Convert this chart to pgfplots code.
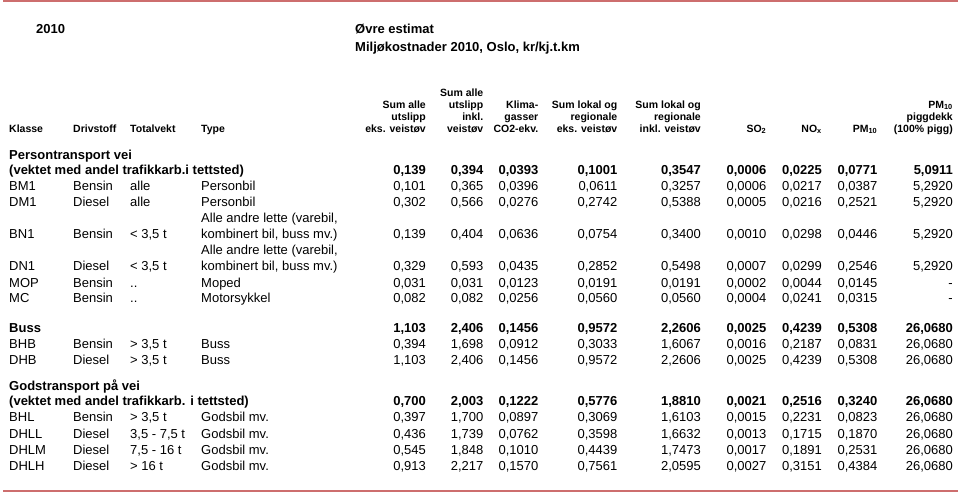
\documentclass[border=0pt]{standalone}
\usepackage{pgfplots}
\pgfplotsset{compat=1.18}
\usepackage{pgfplotstable}
\usepackage{fontspec}
\setmainfont{Liberation Sans}
\definecolor{rule}{RGB}{205,110,110}
\newcommand\dfont{\fontsize{13}{15}\selectfont}
\newcommand\hfont{\fontsize{10.5}{12}\selectfont\bfseries}

% numeric table: y = baseline (pixels from top)
\pgfplotstableread{
y     a     b     c      d      e      f      g      h      i
174.5 0,139 0,394 0,0393 0,1001 0,3547 0,0006 0,0225 0,0771 5,0911
332   1,103 2,406 0,1456 0,9572 2,2606 0,0025 0,4239 0,5308 26,0680
405.5 0,700 2,003 0,1222 0,5776 1,8810 0,0021 0,2516 0,3240 26,0680
}\sumrows
\pgfplotstableread{
y     a     b     c      d      e      f      g      h      i
190.5 0,101 0,365 0,0396 0,0611 0,3257 0,0006 0,0217 0,0387 5,2920
206.5 0,302 0,566 0,0276 0,2742 0,5388 0,0005 0,0216 0,2521 5,2920
238.5 0,139 0,404 0,0636 0,0754 0,3400 0,0010 0,0298 0,0446 5,2920
270.5 0,329 0,593 0,0435 0,2852 0,5498 0,0007 0,0299 0,2546 5,2920
287   0,031 0,031 0,0123 0,0191 0,0191 0,0002 0,0044 0,0145 -
302.5 0,082 0,082 0,0256 0,0560 0,0560 0,0004 0,0241 0,0315 -
348   0,394 1,698 0,0912 0,3033 1,6067 0,0016 0,2187 0,0831 26,0680
364.5 1,103 2,406 0,1456 0,9572 2,2606 0,0025 0,4239 0,5308 26,0680
421.5 0,397 1,700 0,0897 0,3069 1,6103 0,0015 0,2231 0,0823 26,0680
438   0,436 1,739 0,0762 0,3598 1,6632 0,0013 0,1715 0,1870 26,0680
454   0,545 1,848 0,1010 0,4439 1,7473 0,0017 0,1891 0,2531 26,0680
470.5 0,913 2,217 0,1570 0,7561 2,0595 0,0027 0,3151 0,4384 26,0680
}\rows

\newcommand\numcol[4]{%
  \addplot[draw=none, nodes near coords, point meta=explicit symbolic,
    nodes near coords align={center},
    every node near coord/.append style={anchor=base east, inner sep=0pt, font=#4}]
    table[x expr=#2, y=y, meta=#1] {#3};}
\newcommand\lbl[3]{\node[anchor=base west, inner sep=0pt, font=\dfont] at (axis cs:#1,#2) {#3};}
\newcommand\bl[3]{\node[anchor=base west, inner sep=0pt, font=\dfont\bfseries] at (axis cs:#1,#2) {#3};}
\newcommand\hd[3]{\node[anchor=base east, inner sep=0pt, font=\hfont] at (axis cs:#1,#2) {#3};}
\newcommand\hl[3]{\node[anchor=base west, inner sep=0pt, font=\hfont] at (axis cs:#1,#2) {#3};}

\begin{document}
\begin{tikzpicture}
\begin{axis}[width=960pt, height=498pt, scale only axis,
  xmin=0, xmax=960, ymin=0, ymax=498, y dir=reverse,
  hide axis, clip=false]
\path (axis cs:0,0) rectangle (axis cs:960,498);
\draw[rule, line width=2.2pt] (axis cs:3,1) -- (axis cs:958,1);
\draw[rule, line width=2.2pt] (axis cs:3,491) -- (axis cs:958,491);

% titles
\bl{36}{33}{2010}
\bl{355}{33}{Øvre estimat}
\bl{355}{51}{Miljøkostnader 2010, Oslo, kr/kj.t.km}

% header
\hl{9}{132}{Klasse}
\hl{73}{132}{Drivstoff}
\hl{130}{132}{Totalvekt}
\hl{201}{132}{Type}
\hd{426}{108}{Sum alle}\hd{426}{120}{utslipp}\hd{426}{132}{eks. veistøv}
\hd{483.5}{96}{Sum alle}\hd{483.5}{108}{utslipp}\hd{483.5}{120}{inkl.}\hd{483.5}{132}{veistøv}
\hd{538.5}{108}{Klima-}\hd{538.5}{120}{gasser}\hd{538.5}{132}{CO2-ekv.}
\hd{617.5}{108}{Sum lokal og}\hd{617.5}{120}{regionale}\hd{617.5}{132}{eks. veistøv}
\hd{701}{108}{Sum lokal og}\hd{701}{120}{regionale}\hd{701}{132}{inkl. veistøv}
\hd{766.5}{132}{SO\textsubscript{2}}
\hd{822}{132}{NO\textsubscript{x}}
\hd{877.5}{132}{PM\textsubscript{10}}
\hd{953}{108}{PM\textsubscript{10}}\hd{953}{120}{piggdekk}\hd{953}{132}{(100\% pigg)}

% section labels
\bl{9}{159.5}{Persontransport vei}
\bl{9}{174.5}{(vektet med andel trafikkarb.i tettsted)}
\bl{9}{332}{Buss}
\bl{9}{390}{Godstransport på vei}
\bl{9}{405.5}{(vektet med andel trafikkarb. i tettsted)}

% row labels
\lbl{9}{190.5}{BM1}\lbl{73}{190.5}{Bensin}\lbl{130}{190.5}{alle}\lbl{201}{190.5}{Personbil}
\lbl{9}{206.5}{DM1}\lbl{73}{206.5}{Diesel}\lbl{130}{206.5}{alle}\lbl{201}{206.5}{Personbil}
\lbl{201}{222.5}{Alle andre lette (varebil,}
\lbl{9}{238.5}{BN1}\lbl{73}{238.5}{Bensin}\lbl{130}{238.5}{< 3,5 t}\lbl{201}{238.5}{kombinert bil, buss mv.)}
\lbl{201}{254.5}{Alle andre lette (varebil,}
\lbl{9}{270.5}{DN1}\lbl{73}{270.5}{Diesel}\lbl{130}{270.5}{< 3,5 t}\lbl{201}{270.5}{kombinert bil, buss mv.)}
\lbl{9}{287}{MOP}\lbl{73}{287}{Bensin}\lbl{130}{287}{..}\lbl{201}{287}{Moped}
\lbl{9}{302.5}{MC}\lbl{73}{302.5}{Bensin}\lbl{130}{302.5}{..}\lbl{201}{302.5}{Motorsykkel}
\lbl{9}{348}{BHB}\lbl{73}{348}{Bensin}\lbl{130}{348}{> 3,5 t}\lbl{201}{348}{Buss}
\lbl{9}{364.5}{DHB}\lbl{73}{364.5}{Diesel}\lbl{130}{364.5}{> 3,5 t}\lbl{201}{364.5}{Buss}
\lbl{9}{421.5}{BHL}\lbl{73}{421.5}{Bensin}\lbl{130}{421.5}{> 3,5 t}\lbl{201}{421.5}{Godsbil mv.}
\lbl{9}{438}{DHLL}\lbl{73}{438}{Diesel}\lbl{130}{438}{3,5 - 7,5 t}\lbl{201}{438}{Godsbil mv.}
\lbl{9}{454}{DHLM}\lbl{73}{454}{Diesel}\lbl{130}{454}{7,5 - 16 t}\lbl{201}{454}{Godsbil mv.}
\lbl{9}{470.5}{DHLH}\lbl{73}{470.5}{Diesel}\lbl{130}{470.5}{> 16 t}\lbl{201}{470.5}{Godsbil mv.}

% numeric columns
\numcol{a}{426}{\rows}{\dfont}
\numcol{b}{483.5}{\rows}{\dfont}
\numcol{c}{538.5}{\rows}{\dfont}
\numcol{d}{617.5}{\rows}{\dfont}
\numcol{e}{701}{\rows}{\dfont}
\numcol{f}{766.5}{\rows}{\dfont}
\numcol{g}{822}{\rows}{\dfont}
\numcol{h}{877.5}{\rows}{\dfont}
\numcol{i}{953}{\rows}{\dfont}
\numcol{a}{426}{\sumrows}{\dfont\bfseries}
\numcol{b}{483.5}{\sumrows}{\dfont\bfseries}
\numcol{c}{538.5}{\sumrows}{\dfont\bfseries}
\numcol{d}{617.5}{\sumrows}{\dfont\bfseries}
\numcol{e}{701}{\sumrows}{\dfont\bfseries}
\numcol{f}{766.5}{\sumrows}{\dfont\bfseries}
\numcol{g}{822}{\sumrows}{\dfont\bfseries}
\numcol{h}{877.5}{\sumrows}{\dfont\bfseries}
\numcol{i}{953}{\sumrows}{\dfont\bfseries}
\end{axis}
\end{tikzpicture}
\end{document}
